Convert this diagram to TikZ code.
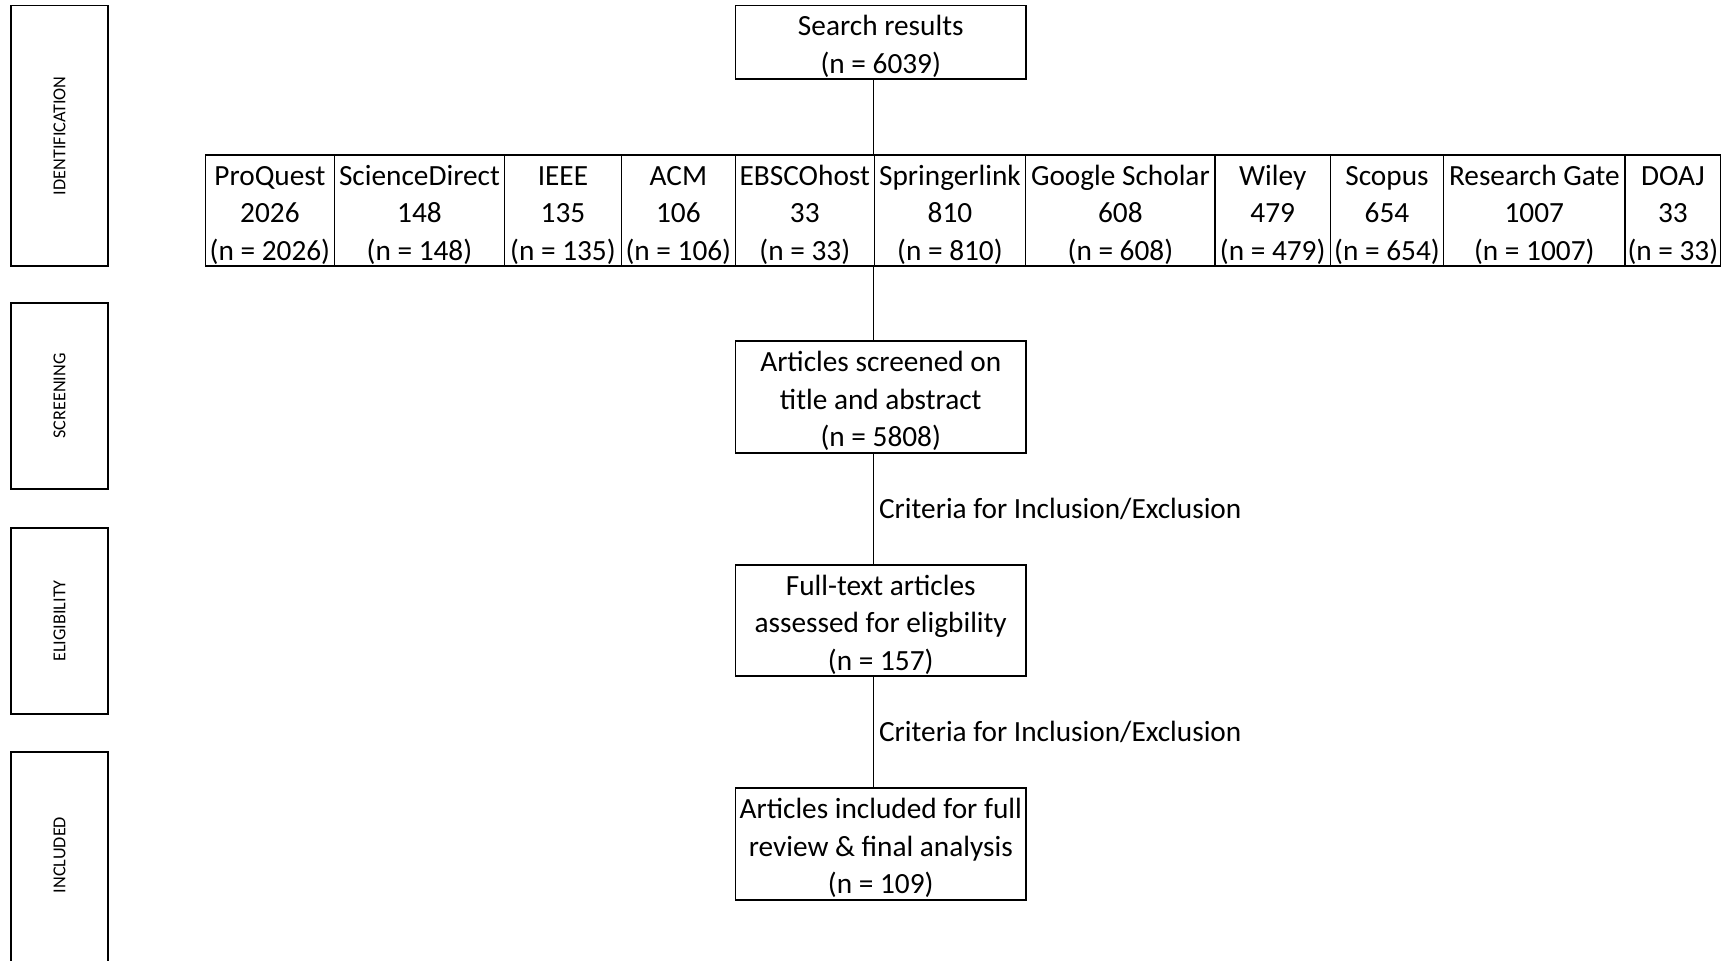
\documentclass[tikz,border=0pt]{standalone}
\usepackage{fontspec}
\setmainfont{Carlito}
\usetikzlibrary{calc}
\newcommand\topfill{\rule{0pt}{14.3pt}}
\begin{document}
\begin{tikzpicture}[x=0.5pt,y=-0.5pt,
  box/.style={draw, line width=0.6pt, inner sep=0pt, align=center,
    font=\fontsize{14.65}{18.7}\selectfont},
  rowbox/.style={box, minimum height=55.5pt},
  stage/.style={draw, line width=0.6pt, inner sep=0pt, minimum width=48.5pt},
  stagelabel/.style={rotate=90, inner sep=0pt, font=\fontsize{9.1}{11}\selectfont},
  lbl/.style={anchor=west, inner sep=0pt, xshift=2.6pt,
    font=\fontsize{14.65}{18.7}\selectfont},
  conn/.style={draw, line width=0.6pt}]
\useasboundingbox (0,0) rectangle (1724,960);

% stage boxes
\node[stage, minimum height=130.25pt] (sid) at (59.5,135.75) {};
\node[stagelabel] at (sid.center) {IDENTIFICATION};
\node[stage, minimum height=93pt] (ssc) at (59.5,396) {};
\node[stagelabel] at (ssc.center) {SCREENING};
\node[stage, minimum height=93pt] (sel) at (59.5,621) {};
\node[stagelabel] at (sel.center) {ELIGIBILITY};
\node[stage, minimum height=105pt] (sin) at (59.5,857) {};
\node[stagelabel] at (59.5,855) {INCLUDED};

% main boxes
\node[box, minimum width=145.25pt, minimum height=36.75pt] (search) at (880.75,42.25) {\topfill Search results\\(n = 6039)};
\node[box, minimum width=145.25pt, minimum height=56pt] (screen) at (880.75,397) {\topfill Articles screened on\\title and abstract\\(n = 5808)};
\node[box, minimum width=145.25pt, minimum height=55.5pt] (full) at (880.75,620.5) {\topfill Full-text articles\\assessed for eligbility\\(n = 157)};
\node[box, minimum width=145.25pt, minimum height=56pt] (incl) at (880.75,844) {\topfill Articles included for full\\review \& final analysis\\(n = 109)};

% database row
\node[rowbox, minimum width=64.3pt] (pq) at (269.9,210.5) {\topfill ProQuest\\2026\\(n = 2026)};
\node[rowbox, minimum width=85.25pt] (sd) at (419.45,210.5) {\topfill ScienceDirect\\148\\(n = 148)};
\node[rowbox, minimum width=58.25pt] (ieee) at (562.95,210.5) {\topfill IEEE\\135\\(n = 135)};
\node[rowbox, minimum width=57.15pt] (acm) at (678.35,210.5) {\topfill ACM\\106\\(n = 106)};
\node[rowbox, minimum width=69.3pt] (eb) at (804.8,210.5) {\topfill EBSCOhost\\33\\(n = 33)};
\node[rowbox, minimum width=75.85pt] (sp) at (949.95,210.5) {\topfill Springerlink\\810\\(n = 810)};
\node[rowbox, minimum width=94.6pt] (gs) at (1120.4,210.5) {\topfill Google Scholar\\608\\(n = 608)};
\node[rowbox, minimum width=57.7pt] (wi) at (1272.7,210.5) {\topfill Wiley\\479\\(n = 479)};
\node[rowbox, minimum width=56.6pt] (sc) at (1387,210.5) {\topfill Scopus\\654\\(n = 654)};
\node[rowbox, minimum width=90.7pt] (rg) at (1534.3,210.5) {\topfill Research Gate\\1007\\(n = 1007)};
\node[rowbox, minimum width=47.85pt] (doaj) at (1672.85,210.5) {\topfill DOAJ\\33\\(n = 33)};

% connectors
\path[conn] (search.south -| sp.north west) -- (sp.north west);
\path[conn] (sp.south west) -- (screen.north -| sp.south west);
\path[conn] (screen.south -| sp.west) coordinate (a1) -- (full.north -| sp.west) coordinate (a2);
\path[conn] (full.south -| sp.west) coordinate (b1) -- (incl.north -| sp.west) coordinate (b2);

\node[lbl] at ($(a1)!0.5!(a2)$) {Criteria for Inclusion/Exclusion};
\node[lbl] at ($(b1)!0.5!(b2)$) {Criteria for Inclusion/Exclusion};
\end{tikzpicture}
\end{document}
